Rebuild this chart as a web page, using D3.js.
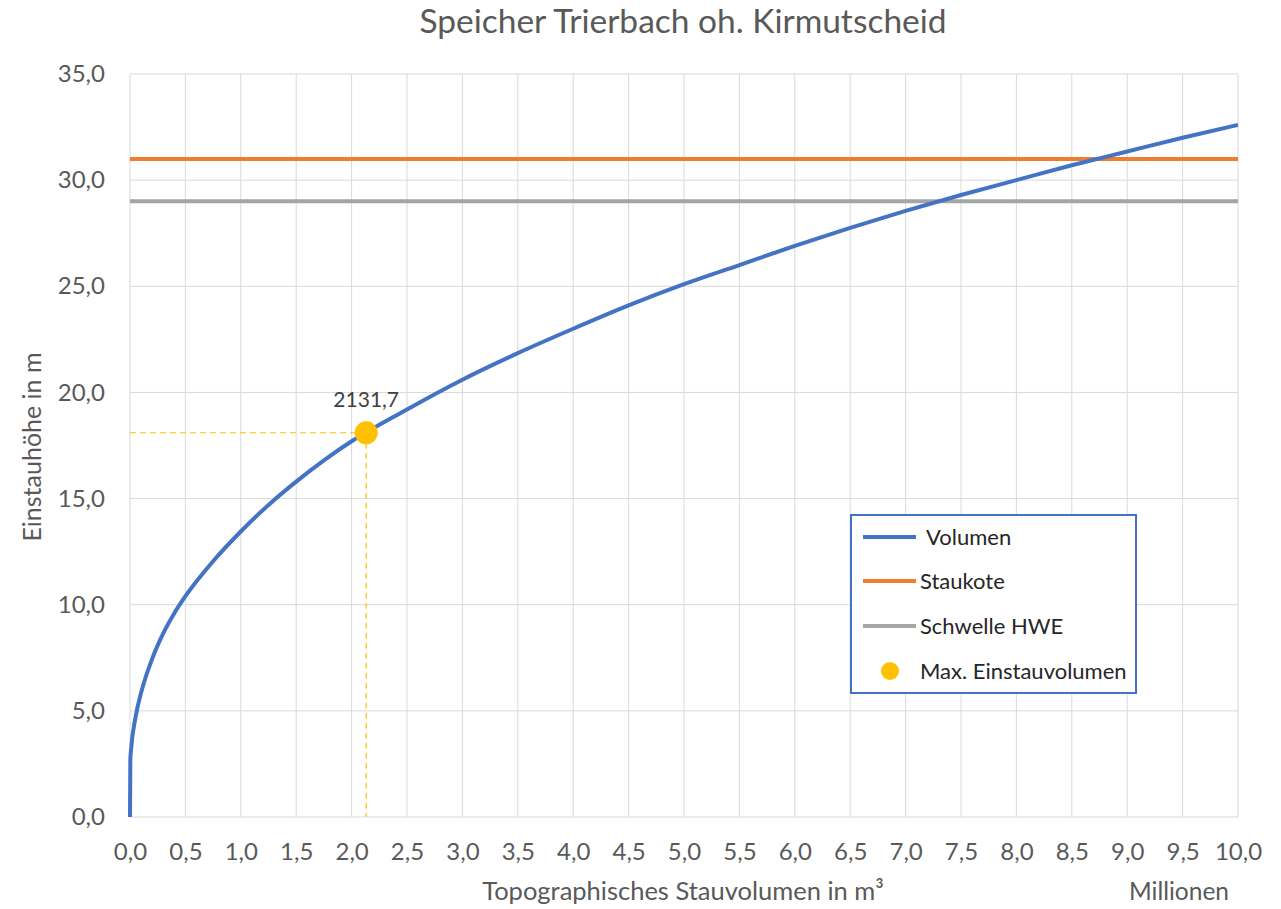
<!DOCTYPE html>
<html>
<head>
<meta charset="utf-8">
<script src="https://cdn.jsdelivr.net/npm/d3@7"></script>
<style>
  html, body { margin: 0; padding: 0; background: #fff; }
  svg { display: block; font-family: Lato, "Open Sans", sans-serif; }
</style>
</head>
<body>
<svg id="chart" width="1281" height="909"></svg>
<script>
// Storage curve: topographic volume (million m³) vs. water level height (m)
const volumenMio = [0, 0.003, 0.01, 0.05, 0.1, 0.2, 0.3, 0.4, 0.5, 0.75, 1.0, 1.25, 1.5, 1.75,
  2.0, 2.5, 3.0, 3.5, 4.0, 4.5, 5.0, 5.5, 6.0, 6.5, 7.0, 7.5, 8.0, 8.5, 9.0, 9.5, 10.0];
const einstauhoehe = [0, 2.7, 3.2, 4.7, 5.85, 7.45, 8.65, 9.6, 10.4, 12.05, 13.45, 14.7, 15.8, 16.8,
  17.7, 19.2, 20.6, 21.85, 23.0, 24.1, 25.1, 26.0, 26.9, 27.75, 28.55, 29.3, 30.0, 30.7, 31.35, 32.0, 32.6];

// Reference levels (m)
const staukote = 31.0;
const schwelleHWE = 29.0;

// Maximum storage volume (thousand m³) and its height (m)
const maxEinstauVolumenTsd = 2131.7;
const maxEinstauHoehe = 18.1;

// Axis ticks
const xTicks = [0, 0.5, 1, 1.5, 2, 2.5, 3, 3.5, 4, 4.5, 5, 5.5, 6, 6.5, 7, 7.5, 8, 8.5, 9, 9.5, 10];
const yTicks = [0, 5, 10, 15, 20, 25, 30, 35];

const legendNames = ["Volumen", "Staukote", "Schwelle HWE", "Max. Einstauvolumen"];
const colors = { volumen: "#4472C4", staukote: "#ED7D31", schwelle: "#A5A5A5", max: "#FFC000" };

const svg = d3.select("#chart");
const plot = { left: 130, right: 1238, top: 74, bottom: 817 };

const x = d3.scaleLinear().domain([0, 10]).range([plot.left, plot.right]);
const y = d3.scaleLinear().domain([0, 35]).range([plot.bottom, plot.top]);

const fmt1 = v => d3.format(".1f")(v).replace(".", ",");
const textColor = "#595959";

// Gridlines
svg.append("g")
  .selectAll("line").data(xTicks).join("line")
  .attr("x1", d => x(d)).attr("x2", d => x(d))
  .attr("y1", plot.top).attr("y2", plot.bottom)
  .attr("stroke", "#D9D9D9").attr("stroke-width", 1);
svg.append("g")
  .selectAll("line").data(yTicks).join("line")
  .attr("x1", plot.left).attr("x2", plot.right)
  .attr("y1", d => y(d)).attr("y2", d => y(d))
  .attr("stroke", "#D9D9D9").attr("stroke-width", 1);

// Axes (labels only; lines come from the grid)
const xAxis = svg.append("g")
  .attr("transform", `translate(0,${plot.bottom})`)
  .call(d3.axisBottom(x).tickValues(xTicks).tickFormat(fmt1).tickSize(0).tickPadding(26));
xAxis.select(".domain").remove();
xAxis.selectAll("text").attr("fill", textColor).style("font-size", "24px")
  .style("font-family", "Lato, sans-serif");

const yAxis = svg.append("g")
  .attr("transform", `translate(${plot.left},0)`)
  .call(d3.axisLeft(y).tickValues(yTicks).tickFormat(fmt1).tickSize(0).tickPadding(25));
yAxis.select(".domain").remove();
yAxis.selectAll("text").attr("fill", textColor).style("font-size", "24px")
  .style("font-family", "Lato, sans-serif");

// Horizontal reference lines
svg.append("line")
  .attr("x1", x(0)).attr("x2", x(10)).attr("y1", y(staukote)).attr("y2", y(staukote))
  .attr("stroke", colors.staukote).attr("stroke-width", 4);
svg.append("line")
  .attr("x1", x(0)).attr("x2", x(10)).attr("y1", y(schwelleHWE)).attr("y2", y(schwelleHWE))
  .attr("stroke", colors.schwelle).attr("stroke-width", 4);

// Volume curve
const curveData = volumenMio.map((v, i) => [v, einstauhoehe[i]]);
svg.append("path")
  .datum(curveData)
  .attr("fill", "none")
  .attr("stroke", colors.volumen)
  .attr("stroke-width", 4)
  .attr("stroke-linejoin", "round")
  .attr("d", d3.line().x(d => x(d[0])).y(d => y(d[1])).curve(d3.curveMonotoneX));

// Max storage point with guide lines
const maxX = maxEinstauVolumenTsd / 1000;
svg.append("line")
  .attr("x1", x(0)).attr("x2", x(maxX)).attr("y1", y(maxEinstauHoehe)).attr("y2", y(maxEinstauHoehe))
  .attr("stroke", colors.max).attr("stroke-width", 1.2).attr("stroke-dasharray", "6,4");
svg.append("line")
  .attr("x1", x(maxX)).attr("x2", x(maxX)).attr("y1", y(maxEinstauHoehe)).attr("y2", y(0))
  .attr("stroke", colors.max).attr("stroke-width", 1.2).attr("stroke-dasharray", "6,4");
svg.append("circle")
  .attr("cx", x(maxX)).attr("cy", y(maxEinstauHoehe)).attr("r", 11.5)
  .attr("fill", colors.max);
svg.append("text")
  .attr("x", x(maxX)).attr("y", y(maxEinstauHoehe) - 26)
  .attr("text-anchor", "middle")
  .attr("fill", "#404040").style("font-size", "21px")
  .text(fmt1(maxEinstauVolumenTsd));

// Title
svg.append("text")
  .attr("x", 683).attr("y", 33)
  .attr("text-anchor", "middle")
  .attr("fill", textColor).style("font-size", "33.5px")
  .text("Speicher Trierbach oh. Kirmutscheid");

// Axis titles
svg.append("text")
  .attr("x", 683).attr("y", 900)
  .attr("text-anchor", "middle")
  .attr("fill", textColor).style("font-size", "25.5px")
  .text("Topographisches Stauvolumen in m³");
svg.append("text")
  .attr("x", 1179).attr("y", 900)
  .attr("text-anchor", "middle")
  .attr("fill", textColor).style("font-size", "24.5px")
  .text("Millionen");
svg.append("text")
  .attr("transform", "translate(41,447) rotate(-90)")
  .attr("text-anchor", "middle")
  .attr("fill", textColor).style("font-size", "25px")
  .text("Einstauhöhe in m");

// Legend
const legend = svg.append("g");
legend.append("rect")
  .attr("x", 851).attr("y", 515).attr("width", 285).attr("height", 178)
  .attr("fill", "#fff").attr("stroke", colors.volumen).attr("stroke-width", 2);
const legendRows = [
  { name: legendNames[0], color: colors.volumen, type: "line", y: 537, tx: 926 },
  { name: legendNames[1], color: colors.staukote, type: "line", y: 581, tx: 920 },
  { name: legendNames[2], color: colors.schwelle, type: "line", y: 626, tx: 920 },
  { name: legendNames[3], color: colors.max, type: "dot", y: 671, tx: 920 }
];
legendRows.forEach(r => {
  if (r.type === "line") {
    legend.append("line").attr("x1", 863).attr("x2", 916).attr("y1", r.y).attr("y2", r.y)
      .attr("stroke", r.color).attr("stroke-width", 4);
  } else {
    legend.append("circle").attr("cx", 890).attr("cy", r.y).attr("r", 9).attr("fill", r.color);
  }
  legend.append("text").attr("x", r.tx).attr("y", r.y).attr("dy", "0.35em")
    .attr("fill", "#262626").style("font-size", "22px").text(r.name);
});
</script>
</body>
</html>
